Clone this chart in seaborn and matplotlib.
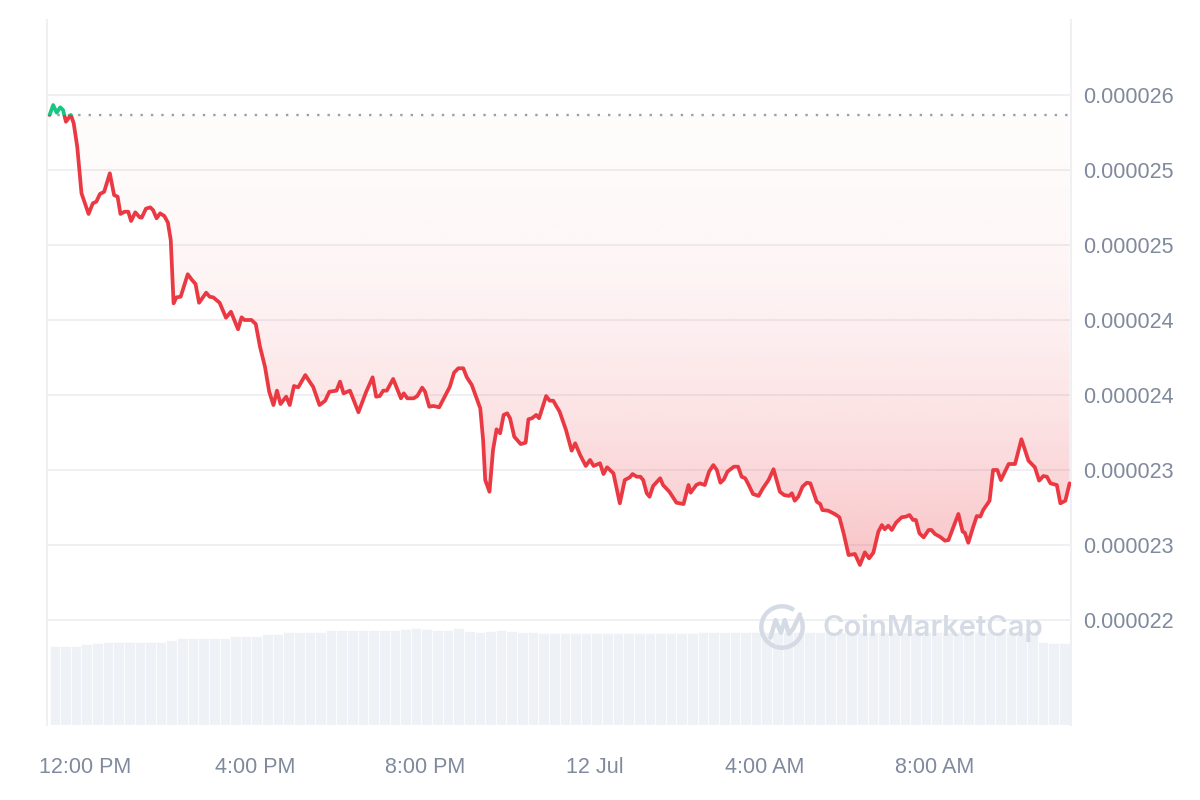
import numpy as np
import matplotlib
matplotlib.use("Agg")
import matplotlib.pyplot as plt
from matplotlib.patches import Rectangle, PathPatch, Arc
import seaborn as sns

# price in millionths (x 1e-6), time in minutes after 11:10 AM (11 Jul)
price_min = [0, 5, 10, 15, 19, 23, 30, 34, 39, 45,
             55, 61, 66, 71, 77, 85, 91, 96, 100, 106,
             111, 115, 121, 127, 130, 136, 142, 146, 151, 156,
             162, 167, 171, 175, 179, 185, 195, 201, 206, 211,
             221, 226, 231, 240, 249, 256, 266, 271, 275, 285,
             291, 297, 304, 310, 316, 321, 326, 334, 339, 345,
             351, 361, 368, 372, 381, 389, 395, 405, 410, 415,
             424, 436, 447, 456, 461, 466, 471, 476, 485, 496,
             500, 505, 514, 519, 526, 530, 536, 542, 550, 565,
             571, 577, 584, 589, 596, 608, 612, 615, 621, 626,
             631, 636, 641, 646, 650, 656, 665, 672, 676, 681,
             687, 691, 701, 706, 711, 720, 729, 737, 742, 749,
             757, 763, 768, 777, 782, 787, 796, 805, 812, 819,
             823, 829, 834, 838, 843, 847, 852, 862, 866, 875,
             885, 895, 902, 905, 913, 918, 925, 931, 937, 942,
             947, 952, 957, 966, 972, 977, 982, 987, 993, 1001,
             1007, 1015, 1022, 1031, 1037, 1044, 1048, 1052, 1057, 1063,
             1069, 1074, 1083, 1088, 1091, 1099, 1109, 1115, 1121, 1128,
             1137, 1144, 1151, 1157, 1163, 1170, 1175, 1179, 1184, 1189,
             1195, 1203, 1209, 1214, 1219, 1223, 1228, 1234, 1241, 1245,
             1250, 1257, 1264, 1269, 1283, 1289, 1292, 1297, 1304, 1309,
             1314, 1318, 1327, 1332, 1338, 1343, 1354, 1363, 1372, 1382,
             1391, 1397, 1403, 1408, 1413, 1422, 1427, 1434, 1440]

price = [25.867, 25.933, 25.882, 25.918, 25.900, 25.822, 25.867, 25.811, 25.655, 25.345,
         25.207, 25.278, 25.289, 25.340, 25.355, 25.478, 25.333, 25.322, 25.207, 25.222,
         25.222, 25.160, 25.218, 25.185, 25.182, 25.242, 25.251, 25.233, 25.178, 25.211,
         25.193, 25.149, 25.033, 24.611, 24.651, 24.655, 24.805, 24.767, 24.740, 24.615,
         24.682, 24.655, 24.651, 24.615, 24.515, 24.555, 24.438, 24.518, 24.500, 24.500,
         24.473, 24.322, 24.189, 24.022, 23.933, 24.029, 23.940, 23.989, 23.933, 24.060,
         24.051, 24.133, 24.082, 24.055, 23.933, 23.962, 24.022, 24.029, 24.089, 24.011,
         24.029, 23.885, 24.022, 24.118, 23.989, 23.993, 24.029, 24.029, 24.107, 23.978,
         24.011, 23.978, 23.978, 23.993, 24.049, 24.022, 23.922, 23.927, 23.918, 24.055,
         24.149, 24.178, 24.178, 24.118, 24.067, 23.911, 23.700, 23.433, 23.355, 23.633,
         23.771, 23.745, 23.867, 23.878, 23.845, 23.722, 23.673, 23.682, 23.838, 23.845,
         23.867, 23.845, 23.993, 23.962, 23.962, 23.889, 23.767, 23.629, 23.678, 23.600,
         23.527, 23.567, 23.527, 23.545, 23.473, 23.518, 23.478, 23.278, 23.433, 23.451,
         23.473, 23.455, 23.455, 23.433, 23.345, 23.322, 23.393, 23.445, 23.400, 23.355,
         23.282, 23.273, 23.400, 23.349, 23.400, 23.411, 23.400, 23.489, 23.533, 23.500,
         23.415, 23.438, 23.489, 23.522, 23.522, 23.455, 23.445, 23.400, 23.340, 23.327,
         23.378, 23.433, 23.505, 23.355, 23.333, 23.327, 23.345, 23.295, 23.322, 23.389,
         23.415, 23.411, 23.289, 23.273, 23.233, 23.229, 23.205, 23.185, 23.078, 22.933,
         22.940, 22.867, 22.951, 22.911, 22.949, 23.089, 23.133, 23.105, 23.129, 23.100,
         23.149, 23.185, 23.189, 23.200, 23.167, 23.167, 23.078, 23.051, 23.100, 23.100,
         23.073, 23.055, 23.029, 23.033, 23.207, 23.089, 23.082, 23.015, 23.122, 23.193,
         23.189, 23.233, 23.295, 23.500, 23.500, 23.433, 23.540, 23.540, 23.705, 23.562,
         23.518, 23.429, 23.460, 23.455, 23.411, 23.400, 23.278, 23.295, 23.411]

# 15-minute volume bars (arbitrary units, axis hidden)
volume = [7.9, 7.9, 7.9, 8.1, 8.2, 8.3, 8.3, 8.3, 8.3, 8.3,
          8.3, 8.5, 8.7, 8.7, 8.7, 8.7, 8.7, 8.9, 8.9, 8.9,
          9.1, 9.1, 9.3, 9.3, 9.3, 9.3, 9.5, 9.5, 9.5, 9.5,
          9.5, 9.5, 9.5, 9.6, 9.7, 9.6, 9.5, 9.5, 9.7, 9.4,
          9.3, 9.4, 9.5, 9.4, 9.3, 9.3, 9.2, 9.2, 9.2, 9.2,
          9.2, 9.2, 9.2, 9.2, 9.2, 9.2, 9.2, 9.2, 9.2, 9.2,
          9.2, 9.3, 9.3, 9.3, 9.3, 9.3, 9.3, 9.3, 9.3, 9.3,
          9.3, 9.3, 9.3, 9.3, 9.3, 9.3, 9.3, 9.3, 9.3, 9.3,
          9.3, 9.3, 9.3, 9.3, 9.3, 9.3, 9.3, 9.3, 9.3, 9.3,
          9.3, 9.3, 9.3, 8.3, 8.2, 8.2]

y_ticks = [26.0, 25.5, 25.0, 24.5, 24.0, 23.5, 23.0, 22.5]
y_labels = ["0.000026", "0.000025", "0.000025", "0.000024",
            "0.000024", "0.000023", "0.000023", "0.000022"]
x_ticks = [50, 290, 530, 770, 1010, 1250]
x_labels = ["12:00 PM", "4:00 PM", "8:00 PM", "12 Jul", "4:00 AM", "8:00 AM"]

RED = "#EA3943"
GREEN = "#16C784"
GREY = "#808A9D"
GRID = "#EFF0F3"

sns.set_theme(style="white")
plt.rcParams["font.family"] = ["Liberation Sans", "DejaVu Sans"]

t = np.array(price_min, dtype=float)
p = np.array(price)
base = p[0]
x0, x1 = -3.7, 1442
y0, y1 = 21.8, 26.5

fig = plt.figure(figsize=(12, 8), dpi=100)
rect = [47 / 1200, 75 / 800, 1024 / 1200, 705 / 800]
ax_vol = fig.add_axes(rect)
ax = fig.add_axes(rect)
ax.patch.set_visible(False)

# volume
vol_t = np.arange(len(volume)) * 15 + 7.5
ax_vol.bar(vol_t, volume, width=15, color="#EEF1F5", edgecolor="white", linewidth=0.5)
ax_vol.set_xlim(x0, x1)
ax_vol.set_ylim(0, 70.5)
ax_vol.axis("off")

# gradient area between line and opening price
fill = ax.fill_between(t, np.minimum(p, base), base, color="none", linewidth=0)
clip = PathPatch(fill.get_paths()[0], transform=ax.transData, facecolor="none", edgecolor="none")
ax.add_patch(clip)
d = np.linspace(0, 1, 256)[:, None]
rgba = np.zeros((256, 1, 4))
rgba[..., :3] = matplotlib.colors.to_rgb(RED)
rgba[..., 3] = 0.02 + 0.28 * (1 - d) ** 2
im = ax.imshow(rgba, extent=[x0, x1, p.min(), base], origin="lower", aspect="auto",
               interpolation="bilinear", zorder=1)
im.set_clip_path(clip)

# baseline
ax.axhline(base, color="#9A9FA8", linestyle=(0, (1, 3.4)), linewidth=1.7, zorder=2)

# price line, green above open and red below
sns.lineplot(x=t, y=p, ax=ax, color=RED, linewidth=2.7, sort=False, estimator=None, zorder=3)
ax.lines[-1].set_clip_path(Rectangle((x0, y0), x1 - x0, base - y0, transform=ax.transData))
sns.lineplot(x=t, y=p, ax=ax, color=GREEN, linewidth=2.7, sort=False, estimator=None, zorder=3)
ax.lines[-1].set_clip_path(Rectangle((x0, base), x1 - x0, y1 - base, transform=ax.transData))

ax.set_xlim(x0, x1)
ax.set_ylim(y0, y1)
ax.set_yticks(y_ticks)
ax.set_yticklabels(y_labels)
ax.set_xticks(x_ticks)
ax.set_xticklabels(x_labels)
ax.yaxis.tick_right()
ax.yaxis.grid(True, color=GRID, linewidth=1.4)
ax.xaxis.grid(False)
ax.set_axisbelow(True)
ax.tick_params(axis="y", length=0, pad=8.5, labelsize=15.5, labelcolor=GREY)
ax.tick_params(axis="x", length=0, pad=23, labelsize=15.5, labelcolor=GREY)
ax.set_xlabel("")
ax.set_ylabel("")
for side in ["top", "bottom"]:
    ax.spines[side].set_visible(False)
for side in ["left", "right"]:
    ax.spines[side].set_color(GRID)
    ax.spines[side].set_linewidth(1.4)

# watermark
fig.text(822 / 1200, 1 - 628 / 800, "CoinMarketCap", ha="left", va="center",
         fontsize=21, color="#D5DBE5", fontweight="semibold",
         family=["Inter", "DejaVu Sans"], zorder=0)
ax_logo = fig.add_axes([759 / 1200, 1 - 650 / 800, 46 / 1200, 46 / 800])
ax_logo.set_xlim(-1, 1)
ax_logo.set_ylim(-1, 1)
ax_logo.axis("off")
ax_logo.add_patch(Arc((0, 0), 1.8, 1.8, theta1=55, theta2=395, color="#D5DBE5", linewidth=3.2))
ax_logo.plot([-0.5, -0.28, -0.05, 0.12, 0.3, 0.5, 0.78],
             [-0.45, 0.3, -0.25, 0.3, -0.3, -0.05, 0.55], color="#D5DBE5", linewidth=3.2,
             solid_joinstyle="round", solid_capstyle="round")

fig.savefig("out.png", dpi=100)
